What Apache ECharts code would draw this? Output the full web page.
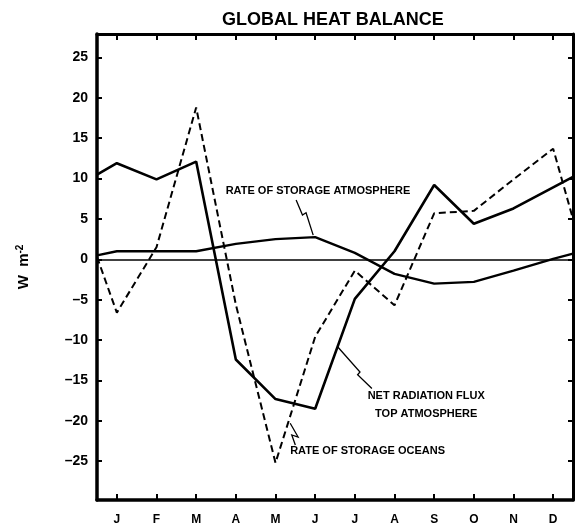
<!DOCTYPE html>
<html>
<head>
<meta charset="utf-8">
<script src="https://cdn.jsdelivr.net/npm/echarts@6/dist/echarts.min.js"></script>
<style>
  html, body { margin: 0; padding: 0; background: #fff; }
  #chart { width: 575px; height: 526px; }
</style>
</head>
<body>
<div id="chart"></div>
<script>
const months = ['J', 'F', 'M', 'A', 'M', 'J', 'J', 'A', 'S', 'O', 'N', 'D'];
const yTicks = [-25, -20, -15, -10, -5, 0, 5, 10, 15, 20, 25];

// monthly values (W m-2); *Edges = where each curve meets the left / right frame
const netRadiation = [11.9, 9.9, 12.1, -12.4, -17.3, -18.5, -4.9, 1.0, 9.2, 4.4, 6.3, 8.9];
const netRadiationEdges = [10.5, 10.2];
const storageAtmosphere = [1.0, 1.0, 1.0, 1.9, 2.5, 2.75, 0.8, -1.8, -3.0, -2.8, -1.4, 0.05];
const storageAtmosphereEdges = [0.5, 0.7];
const storageOceans = [-6.6, 1.5, 18.8, -5.6, -25.2, -9.6, -1.4, -5.7, 5.7, 6.0, 9.9, 13.7];
const storageOceansEdges = [0.3, 5.0];

// annotation labels and their leader lines, in data units (month index, W m-2)
const annotations = [
  { text: 'RATE OF STORAGE ATMOSPHERE', at: [5.57, 8.46], align: 'center',
    leader: [[5.02, 7.34], [5.18, 5.49], [5.27, 5.77], [5.45, 3.0]] },
  { text: 'NET RADIATION FLUX\nTOP ATMOSPHERE', at: [8.3, -18.05], align: 'center',
    leader: [[6.06, -10.8], [6.63, -13.95], [6.57, -14.3], [6.93, -16.0]] },
  { text: 'RATE OF STORAGE OCEANS', at: [4.87, -23.7], align: 'left',
    leader: [[4.87, -20.3], [5.07, -22.0], [4.91, -21.75], [5.0, -23.0]] }
];

const FONT = '"Liberation Sans", Arial, sans-serif';
const monthPos = months.map((m, i) => i + 0.5);

const toSeries = (vals, edges) =>
  [[0, edges[0]]].concat(vals.map((v, i) => [i + 0.5, v]), [[12, edges[1]]]);

const chart = echarts.init(document.getElementById('chart'), null, { renderer: 'canvas' });

const tickStyle = { width: 2, color: '#000' };

const option = {
  animation: false,
  backgroundColor: '#fff',
  title: {
    text: 'GLOBAL HEAT BALANCE',
    left: 222,
    top: 11,
    padding: 0,
    textStyle: { fontFamily: FONT, fontSize: 18, fontWeight: 'bold', color: '#000' }
  },
  grid: { left: 97, right: 2, top: 34, bottom: 26 },
  xAxis: [
    {
      type: 'value', min: 0, max: 12, position: 'bottom',
      axisLine: { onZero: false, lineStyle: { color: '#000', width: 3.5 } },
      axisTick: { inside: true, length: 6, lineStyle: tickStyle, customValues: monthPos },
      axisLabel: {
        customValues: monthPos,
        formatter: v => months[Math.round(v - 0.5)],
        margin: 14, color: '#000', fontFamily: FONT, fontSize: 12, fontWeight: 'bold'
      },
      splitLine: { show: false }
    },
    {
      type: 'value', min: 0, max: 12, position: 'top',
      axisLine: { onZero: false, lineStyle: { color: '#000', width: 3 } },
      axisTick: { inside: true, length: 6, lineStyle: tickStyle, customValues: monthPos },
      axisLabel: { show: false },
      splitLine: { show: false }
    }
  ],
  yAxis: [
    {
      type: 'value', min: -29.8, max: 27.9, position: 'left',
      axisLine: { show: true, onZero: false, lineStyle: { color: '#000', width: 3.5 } },
      axisTick: { show: true, inside: true, length: 5, lineStyle: tickStyle, customValues: yTicks },
      axisLabel: {
        customValues: yTicks,
        formatter: v => (v < 0 ? '\u2013' + (-v) : String(v)),
        margin: 9, color: '#000', fontFamily: FONT, fontSize: 14, fontWeight: 'bold'
      },
      splitLine: { show: false },
      name: '{a|W  m}{s|-2}',
      nameLocation: 'middle',
      nameGap: 64,
      nameRotate: 90,
      nameTextStyle: {
        rich: {
          a: { fontFamily: FONT, fontSize: 15, fontWeight: 'bold', color: '#000' },
          s: { fontFamily: FONT, fontSize: 10, fontWeight: 'bold', color: '#000', verticalAlign: 'top', padding: [0, 0, 8, 0] }
        }
      }
    },
    {
      type: 'value', min: -29.8, max: 27.9, position: 'right',
      axisLine: { show: true, onZero: false, lineStyle: { color: '#000', width: 3 } },
      axisTick: { show: true, inside: true, length: 5, lineStyle: tickStyle, customValues: yTicks },
      axisLabel: { show: false },
      splitLine: { show: false }
    }
  ],
  series: [
    {
      name: 'Net radiation flux top atmosphere',
      type: 'line',
      data: toSeries(netRadiation, netRadiationEdges),
      symbol: 'none',
      lineStyle: { color: '#000', width: 2.6 },
      markLine: {
        silent: true,
        symbol: 'none',
        label: { show: false },
        lineStyle: { color: '#000', width: 1.6, type: 'solid' },
        data: [{ yAxis: 0 }]
      }
    },
    {
      name: 'Rate of storage atmosphere',
      type: 'line',
      data: toSeries(storageAtmosphere, storageAtmosphereEdges),
      symbol: 'none',
      lineStyle: { color: '#000', width: 2.3 }
    },
    {
      name: 'Rate of storage oceans',
      type: 'line',
      data: toSeries(storageOceans, storageOceansEdges),
      symbol: 'none',
      lineStyle: { color: '#000', width: 2, type: [7, 4] }
    }
  ]
};

chart.setOption(option);

// annotation texts and zig-zag leaders, placed through the grid's own scales
const px = p => chart.convertToPixel({ gridIndex: 0 }, p);
const graphics = [];
annotations.forEach(a => {
  const pos = px(a.at);
  graphics.push({
    type: 'text',
    x: pos[0], y: pos[1],
    style: {
      text: a.text,
      fill: '#000',
      font: 'bold 11px ' + FONT,
      align: a.align,
      verticalAlign: 'middle',
      lineHeight: 18
    }
  });
  graphics.push({
    type: 'polyline',
    shape: { points: a.leader.map(px) },
    style: { stroke: '#000', lineWidth: 1.3, fill: null }
  });
});
chart.setOption({ graphic: graphics });
</script>
</body>
</html>
